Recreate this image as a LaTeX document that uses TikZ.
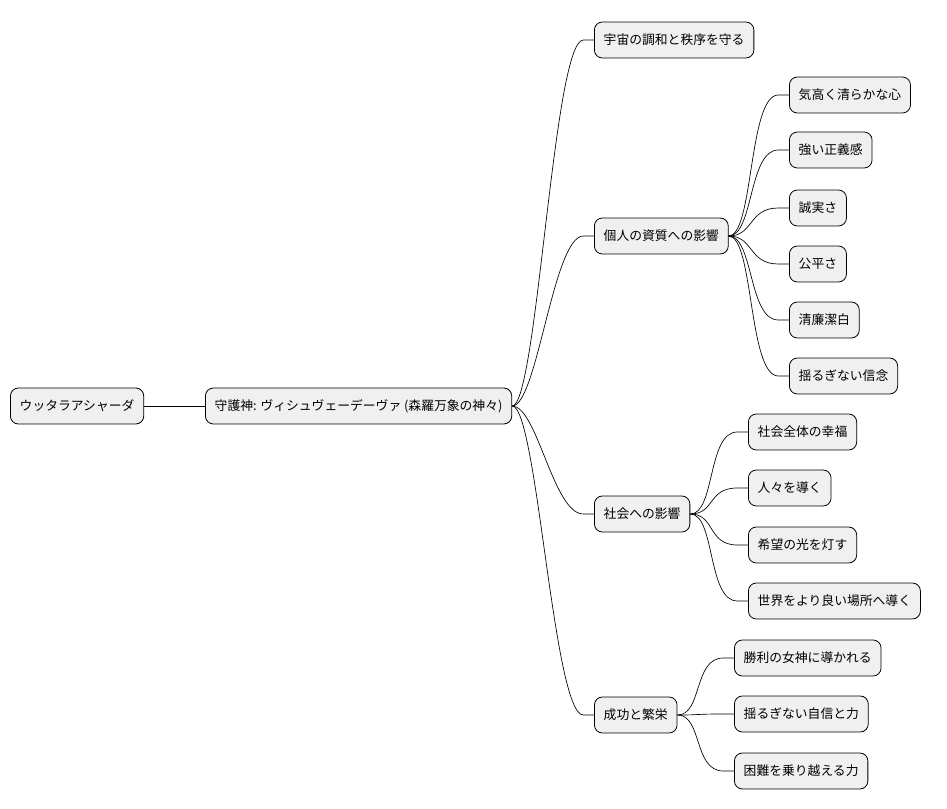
\documentclass[tikz,border=0pt]{standalone}
\usepackage{fontspec}
\setmainfont{Noto Sans CJK JP}
\begin{document}
\begin{tikzpicture}[x=0.75pt,y=-0.75pt,
  box/.style={draw=black,fill=black!6,rounded corners=6pt,anchor=west,minimum height=27pt,inner xsep=7pt,font=\fontsize{9.6pt}{11pt}\selectfont,line width=0.6pt},
  link/.style={draw=black,line width=0.5pt}]
\useasboundingbox (0,0) rectangle (947,809);
\node[box] (r) at (10,406) {ウッタラアシャーダ};
\node[box] (g) at (205,406) {守護神: ヴィシュヴェーデーヴァ (森羅万象の神々)};
\node[box] (a) at (594,40) {宇宙の調和と秩序を守る};
\node[box] (b) at (594,236) {個人の資質への影響};
\node[box] (c) at (594,514) {社会への影響};
\node[box] (d) at (594,715) {成功と繁栄};
\node[box] (b1) at (789,95) {気高く清らかな心};
\node[box] (b2) at (789,150) {強い正義感};
\node[box] (b3) at (789,208) {誠実さ};
\node[box] (b4) at (789,264) {公平さ};
\node[box] (b5) at (789,320) {清廉潔白};
\node[box] (b6) at (789,376) {揺るぎない信念};
\node[box] (c1) at (748,432) {社会全体の幸福};
\node[box] (c2) at (748,488) {人々を導く};
\node[box] (c3) at (748,545) {希望の光を灯す};
\node[box] (c4) at (748,601) {世界をより良い場所へ導く};
\node[box] (d1) at (734,658) {勝利の女神に導かれる};
\node[box] (d2) at (734,714) {揺るぎない自信と力};
\node[box] (d3) at (734,771) {困難を乗り越える力};
\draw[link] (r.east) -- (g.west);
\foreach \p/\c in {g/a,g/b,g/c,g/d,b/b1,b/b2,b/b3,b/b4,b/b5,b/b6,c/c1,c/c2,c/c3,c/c4,d/d1,d/d2,d/d3}{
  \draw[link] (\p.east) .. controls +(25,0) and +(-30,0) .. ([xshift=-8]\c.west) -- (\c.west);
}
\end{tikzpicture}
\end{document}
